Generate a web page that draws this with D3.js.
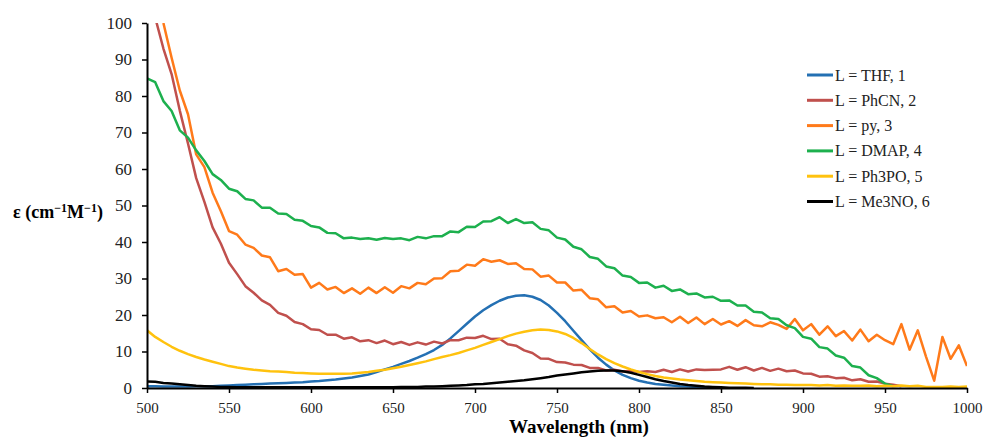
<!DOCTYPE html>
<html>
<head>
<meta charset="utf-8">
<script src="https://cdn.jsdelivr.net/npm/d3@7"></script>
<style>
  body { margin: 0; background: #fff; }
</style>
</head>
<body>
<div id="container"></div>
<script>
// wavelength grid (nm), one value every 5 nm
const wavelengths = d3.range(500, 1001, 5);

const seriesNames = ["L = THF, 1", "L = PhCN, 2", "L = py, 3", "L = DMAP, 4", "L = Ph3PO, 5", "L = Me3NO, 6"];
const seriesColors = ["#2470b3", "#c0504d", "#ff7a1a", "#1db04e", "#ffc20e", "#000000"];

const xTicks = [500, 550, 600, 650, 700, 750, 800, 850, 900, 950, 1000];
const yTicks = [0, 10, 20, 30, 40, 50, 60, 70, 80, 90, 100];

// epsilon values, aligned with wavelengths (null = no data)
const thf = [
  0.5,0.5,0.4,0.4,0.4,0.4,0.5,0.5,0.5,0.6,
  0.7,0.8,0.9,1.0,1.1,1.2,1.3,1.4,1.5,1.6,
  1.8,1.9,2.1,2.3,2.6,2.9,3.3,3.7,4.4,5.1,
  5.8,6.6,7.4,8.3,9.3,10.4,11.8,13.6,15.6,17.6,
  19.6,21.3,22.7,23.9,24.8,25.3,25.4,25.0,24.1,22.6,
  20.6,18.3,15.7,13.1,10.6,8.3,6.4,4.8,3.6,2.7,
  2.0,1.5,1.1,0.9,0.7,0.5,0.4,0.3,0.2,0.1,
  0.1
];
const phcn = [
  null,101.5,93.0,86.0,76.0,67.0,57.5,51.0,44.0,39.6,
  34.3,31.2,27.9,26.1,24.0,22.8,20.6,19.8,18.1,17.5,
  16.1,15.9,14.6,14.6,13.5,13.9,12.8,13.1,12.3,13.0,
  12.0,12.6,11.8,12.5,11.9,12.7,12.2,13.1,13.1,13.8,
  13.7,14.3,13.4,13.5,12.0,11.6,10.3,9.6,8.1,8.0,
  7.1,7.0,6.4,6.3,5.5,5.5,4.8,5.0,4.5,4.7,
  4.4,4.6,4.4,5.0,4.4,5.1,4.5,5.1,4.9,5.0,
  5.1,5.8,5.0,5.7,4.8,5.5,4.7,5.3,4.6,4.8,
  4.0,3.9,3.1,3.2,2.7,2.8,2.1,2.4,1.7,1.8,
  1.2,0.9,0.5
];
const py = [
  null,null,100.0,90.5,81.5,75.0,64.0,60.5,53.5,48.5,
  43.0,42.0,39.3,38.4,36.3,35.8,32.0,32.6,31.0,31.2,
  27.5,28.8,27.0,27.7,26.0,27.3,25.8,27.5,26.0,27.6,
  26.1,27.9,27.3,28.8,28.4,30.0,30.1,32.0,32.1,33.8,
  33.5,35.3,34.6,35.0,34.0,34.2,32.6,32.5,30.5,30.8,
  28.9,28.9,26.7,26.9,24.6,24.3,22.1,22.4,20.7,21.1,
  19.6,19.9,19.1,19.4,18.0,19.5,17.8,19.3,17.5,18.9,
  17.4,18.3,17.0,18.6,17.2,16.9,18.0,17.3,16.2,18.9,
  15.8,17.5,14.6,16.9,14.2,15.6,13.0,16.0,12.8,14.6,
  13.1,12.0,17.5,10.5,15.8,8.6,2.0,14.0,8.0,11.7,
  6.0
];
const dmap = [
  84.8,83.8,78.6,75.9,70.6,68.6,65.1,62.2,58.6,57.0,
  54.6,53.9,51.8,51.4,49.4,49.4,47.8,47.7,46.1,45.8,
  44.4,44.0,42.5,42.4,41.0,41.2,40.8,41.0,40.6,41.1,
  40.8,41.0,40.5,41.4,41.0,41.6,41.6,42.9,42.7,44.2,
  44.1,45.6,45.7,46.8,45.2,46.3,45.2,45.4,43.6,43.2,
  41.2,40.7,38.7,38.0,35.9,35.4,33.3,32.8,30.8,30.4,
  28.8,28.9,27.5,28.0,26.6,27.0,25.7,25.9,24.8,25.0,
  23.9,24.0,22.6,22.6,20.9,20.7,19.1,18.9,17.2,16.4,
  14.0,13.5,11.2,10.8,8.9,8.3,6.0,5.6,3.5,2.7,
  1.2,0.5
];
const ph3po = [
  15.8,14.0,12.6,11.3,10.2,9.3,8.5,7.8,7.2,6.6,
  6.0,5.6,5.3,5.0,4.8,4.6,4.5,4.4,4.2,4.1,
  4.0,3.9,3.9,3.9,3.9,4.0,4.2,4.4,4.7,5.0,
  5.4,5.8,6.3,6.8,7.3,7.9,8.5,9.0,9.6,10.3,
  11.0,11.8,12.6,13.4,14.2,14.9,15.4,15.8,16.0,15.9,
  15.5,14.8,13.7,12.3,10.7,9.2,7.9,6.8,5.9,5.1,
  4.4,3.8,3.3,2.9,2.6,2.3,2.1,1.9,1.7,1.6,
  1.5,1.4,1.3,1.2,1.1,1.0,1.0,0.9,0.9,0.8,
  0.8,0.8,0.7,0.8,0.6,0.7,0.6,0.6,0.7,0.5,
  0.6,0.5,0.7,0.5,0.6,0.3,0.3,0.3,0.4,0.3,
  0.4
];
const me3no = [
  1.8,1.7,1.4,1.2,1.0,0.8,0.6,0.5,0.4,0.3,
  0.3,0.2,0.2,0.2,0.2,0.2,0.2,0.2,0.2,0.2,
  0.2,0.2,0.2,0.2,0.2,0.2,0.2,0.2,0.2,0.2,
  0.2,0.3,0.3,0.3,0.4,0.4,0.5,0.6,0.7,0.8,
  1.0,1.1,1.3,1.5,1.7,1.9,2.1,2.4,2.7,3.0,
  3.4,3.7,4.0,4.3,4.5,4.7,4.8,4.8,4.6,4.2,
  3.6,3.0,2.4,1.9,1.5,1.1,0.8,0.6,0.4,0.3,
  0.2,0.1,0.1,0.1,0.0
];

const allSeries = [thf, phcn, py, dmap, ph3po, me3no];

const W = 985, H = 440;
const margin = {top: 23, right: 18, bottom: 52, left: 147};
const serif = '"Liberation Serif", "Times New Roman", serif';

const svg = d3.select("#container")
    .append("svg")
        .attr("width", W)
        .attr("height", H)
        .style("font-family", serif);

const x = d3.scaleLinear()
    .domain([500, 1000])
    .range([margin.left, W - margin.right]);

const y = d3.scaleLinear()
    .domain([0, 100])
    .range([H - margin.bottom, margin.top]);

svg.append("clipPath").attr("id", "plotClip")
    .append("rect")
        .attr("x", margin.left)
        .attr("y", margin.top)
        .attr("width", W - margin.right - margin.left)
        .attr("height", H - margin.bottom - margin.top);

// lines
const line = d3.line()
    .defined(d => d.v != null)
    .x(d => x(d.w))
    .y(d => y(d.v));

const lineG = svg.append("g").attr("clip-path", "url(#plotClip)");
allSeries.forEach(function(vals, i){
    const pts = vals.map((v, k) => ({w: wavelengths[k], v: v}));
    lineG.append("path")
        .datum(pts)
        .attr("fill", "none")
        .attr("stroke", seriesColors[i])
        .attr("stroke-width", 2.5)
        .attr("stroke-linejoin", "round")
        .attr("d", line);
});

// axes
const xAxis = svg.append("g")
    .attr("transform", `translate(0, ${H - margin.bottom})`)
    .call(d3.axisBottom(x).tickValues(xTicks).tickFormat(d3.format("d"))
        .tickSize(5).tickPadding(9).tickSizeOuter(0));
xAxis.attr("font-family", null).attr("font-size", null);
xAxis.selectAll("text").style("font-size", "15px").style("font-family", serif).attr("fill", "#222");

const yAxis = svg.append("g")
    .attr("transform", `translate(${margin.left}, 0)`)
    .call(d3.axisLeft(y).tickValues(yTicks).tickSize(5).tickPadding(10).tickSizeOuter(0));
yAxis.attr("font-family", null).attr("font-size", null);
yAxis.selectAll("text").style("font-size", "17px").style("font-family", serif).attr("fill", "#222");

svg.selectAll(".domain").attr("stroke", "#000").attr("stroke-width", 2);
svg.selectAll(".tick line").attr("stroke", "#000").attr("stroke-width", 1.5);

// axis titles
svg.append("text")
    .attr("x", 579)
    .attr("y", 433)
    .attr("text-anchor", "middle")
    .style("font-family", serif)
    .style("font-size", "19px")
    .style("font-weight", "bold")
    .text("Wavelength (nm)");

const yTitle = svg.append("text")
    .attr("x", 58)
    .attr("y", 218)
    .attr("text-anchor", "middle")
    .style("font-family", serif)
    .style("font-size", "18px")
    .style("font-weight", "bold");
yTitle.append("tspan").text("ε (cm");
yTitle.append("tspan").attr("dy", -6).style("font-size", "12px").text("−1");
yTitle.append("tspan").attr("dy", 6).text("M");
yTitle.append("tspan").attr("dy", -6).style("font-size", "12px").text("−1");
yTitle.append("tspan").attr("dy", 6).text(")");

// legend
const legend = svg.append("g").attr("transform", "translate(807, 75)");
seriesNames.forEach(function(name, i){
    const row = legend.append("g").attr("transform", `translate(0, ${i * 25.3})`);
    row.append("line")
        .attr("x1", 0).attr("x2", 26)
        .attr("y1", 0).attr("y2", 0)
        .attr("stroke", seriesColors[i])
        .attr("stroke-width", 3);
    row.append("text")
        .attr("x", 28)
        .attr("y", 5.5)
        .style("font-family", serif)
        .style("font-size", "16px")
        .attr("fill", "#222")
        .text(name);
});
</script>
</body>
</html>
